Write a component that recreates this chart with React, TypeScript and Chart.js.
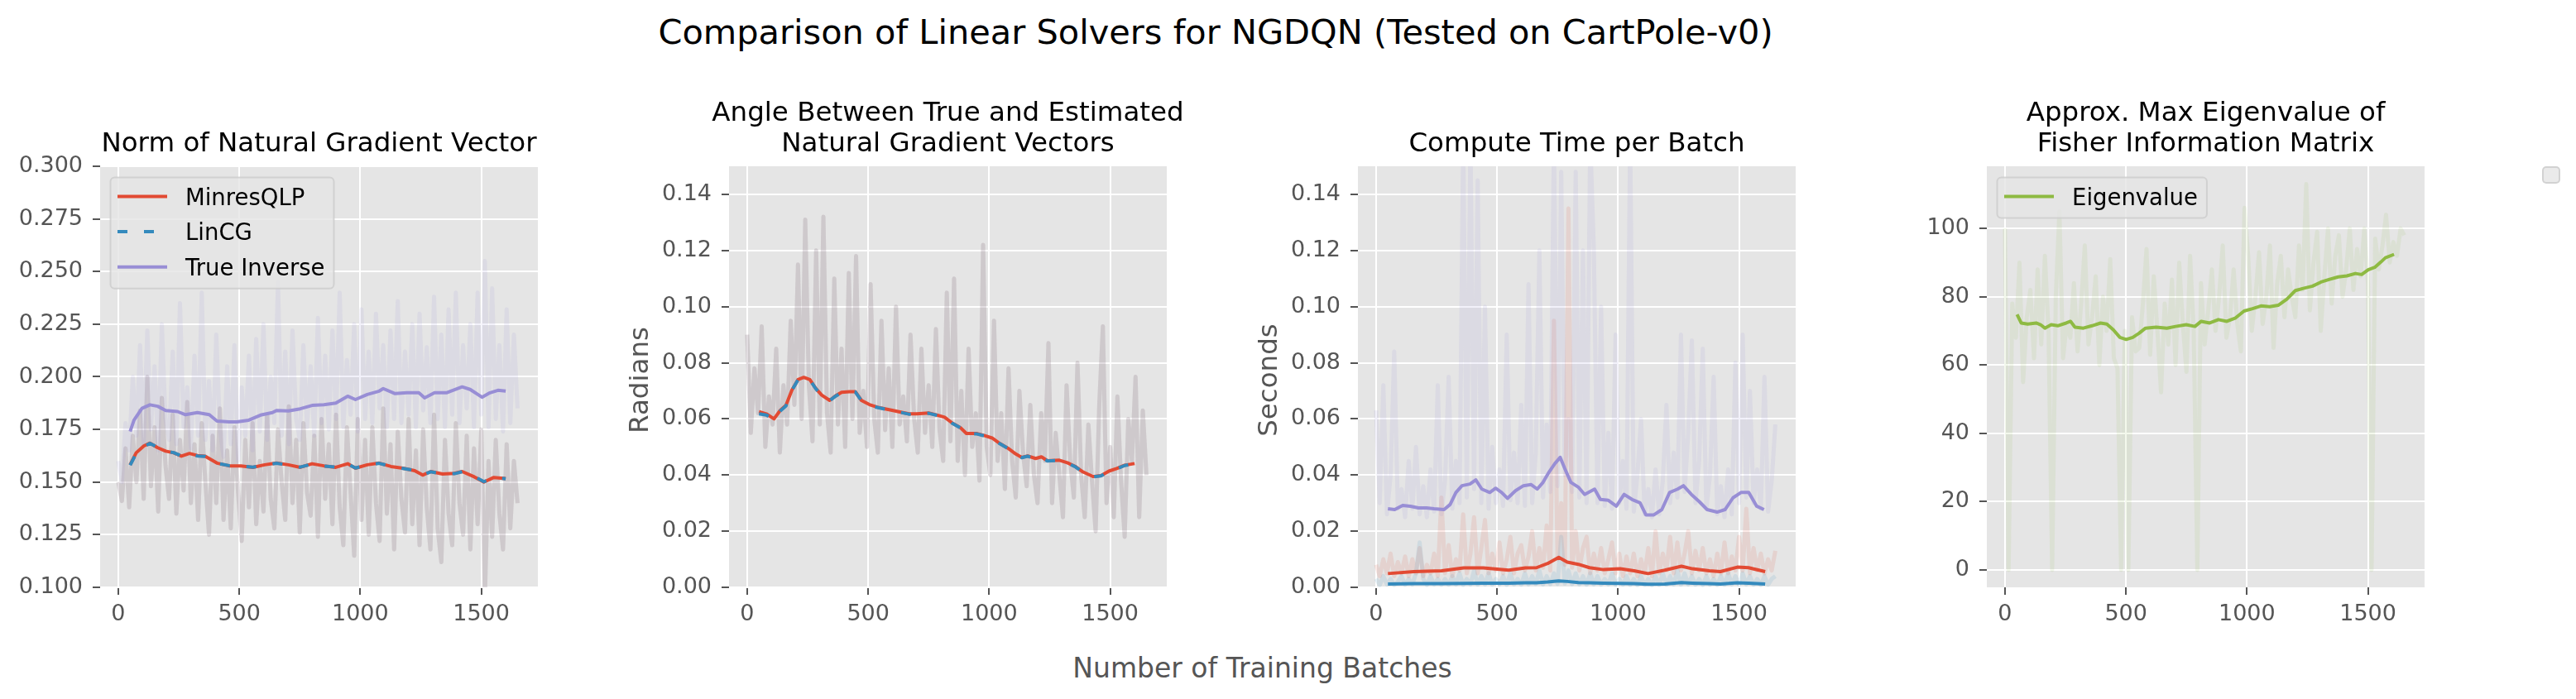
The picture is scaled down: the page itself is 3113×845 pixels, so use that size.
import { useEffect, useRef } from "react"
import { Chart, registerables } from "chart.js"

Chart.register(...registerables)

// x positions of the raw (unsmoothed) samples, every 15 batches
const rawX = [
  0, 15, 30, 45, 60, 75, 90, 105, 120, 135, 150, 165, 180, 195, 210, 225, 240, 255, 270, 285,
  300, 315, 330, 345, 360, 375, 390, 405, 420, 435, 450, 465, 480, 495, 510, 525, 540, 555, 570, 585,
  600, 615, 630, 645, 660, 675, 690, 705, 720, 735, 750, 765, 780, 795, 810, 825, 840, 855, 870, 885,
  900, 915, 930, 945, 960, 975, 990, 1005, 1020, 1035, 1050, 1065, 1080, 1095, 1110, 1125, 1140, 1155, 1170, 1185,
  1200, 1215, 1230, 1245, 1260, 1275, 1290, 1305, 1320, 1335, 1350, 1365, 1380, 1395, 1410, 1425, 1440, 1455, 1470, 1485,
  1500, 1515, 1530, 1545, 1560, 1575, 1590, 1605, 1620, 1635, 1650,
]

// --- Norm of natural gradient vector ---
// raw values of MinresQLP and LinCG coincide
const normEstRaw = [
  0.15, 0.141, 0.166, 0.138, 0.172, 0.15, 0.184, 0.142, 0.2, 0.148,
  0.176, 0.136, 0.19, 0.158, 0.142, 0.182, 0.135, 0.17, 0.146, 0.188,
  0.14, 0.168, 0.132, 0.178, 0.15, 0.125, 0.172, 0.14, 0.185, 0.132,
  0.165, 0.128, 0.176, 0.145, 0.122, 0.17, 0.138, 0.178, 0.13, 0.16,
  0.136, 0.182, 0.142, 0.128, 0.175, 0.15, 0.132, 0.186, 0.14, 0.17,
  0.126, 0.178, 0.145, 0.134, 0.172, 0.124, 0.18, 0.142, 0.168, 0.13,
  0.182, 0.138, 0.12, 0.176, 0.145, 0.115, 0.18, 0.132, 0.17, 0.125,
  0.176, 0.14, 0.122, 0.185, 0.135, 0.168, 0.118, 0.174, 0.142, 0.126,
  0.18, 0.13, 0.165, 0.12, 0.175, 0.138, 0.118, 0.182, 0.128, 0.112,
  0.17, 0.135, 0.12, 0.178, 0.14, 0.125, 0.172, 0.118, 0.166, 0.13,
  0.175, 0.095, 0.16, 0.124, 0.17, 0.135, 0.118, 0.168, 0.128, 0.16,
  0.14,
]
const normTrueRaw = [
  0.16, 0.15, 0.178, 0.165, 0.2, 0.172, 0.215, 0.168, 0.222, 0.175,
  0.205, 0.165, 0.225, 0.18, 0.17, 0.212, 0.168, 0.235, 0.176, 0.195,
  0.166, 0.21, 0.172, 0.24, 0.17, 0.198, 0.165, 0.22, 0.175, 0.162,
  0.205, 0.168, 0.215, 0.16, 0.195, 0.172, 0.21, 0.165, 0.218, 0.174,
  0.225, 0.17, 0.2, 0.178, 0.245, 0.172, 0.212, 0.168, 0.222, 0.18,
  0.17, 0.215, 0.176, 0.205, 0.172, 0.228, 0.178, 0.21, 0.175, 0.222,
  0.18, 0.24, 0.176, 0.208, 0.182, 0.225, 0.174, 0.232, 0.18, 0.212,
  0.178, 0.23, 0.185, 0.215, 0.176, 0.222, 0.18, 0.236, 0.178, 0.212,
  0.182, 0.225, 0.176, 0.23, 0.184, 0.214, 0.178, 0.238, 0.18, 0.22,
  0.176, 0.232, 0.182, 0.24, 0.178, 0.215, 0.185, 0.225, 0.176, 0.24,
  0.182, 0.255, 0.176, 0.242, 0.18, 0.215, 0.174, 0.232, 0.178, 0.22,
  0.185,
]
const normQlpX = [
  49, 74, 106, 131, 163, 196, 229, 261, 294, 327, 359, 408, 458, 507, 556, 605, 654, 703, 752, 801,
  850, 899, 948, 980, 1029, 1078, 1127, 1176, 1225, 1258, 1291, 1340, 1389, 1421, 1471, 1511, 1552, 1601,
]
const normQlpSmooth = [
  0.1582, 0.1639, 0.1672, 0.1685, 0.1663, 0.1647, 0.1639, 0.1623, 0.1636, 0.1626,
  0.1623, 0.159, 0.1577, 0.1577, 0.157, 0.1582, 0.159, 0.1582, 0.157, 0.1587,
  0.1577, 0.157, 0.1587, 0.1566, 0.1582, 0.159, 0.1574, 0.1566, 0.1554, 0.1533,
  0.155, 0.1538, 0.1541, 0.155, 0.1525, 0.15, 0.1522, 0.1517,
]
const normCgSmooth = [
  0.158, 0.1636, 0.1668, 0.1684, 0.1664, 0.1646, 0.164, 0.1624, 0.1635, 0.1624,
  0.1622, 0.1589, 0.1578, 0.1576, 0.1571, 0.1581, 0.1589, 0.1581, 0.1571, 0.1586,
  0.1576, 0.1571, 0.1586, 0.1567, 0.1581, 0.1589, 0.1575, 0.1565, 0.1555, 0.1534,
  0.1549, 0.1539, 0.154, 0.1549, 0.1526, 0.1502, 0.1521, 0.1516,
]
const normTrueX = [
  49, 65, 98, 131, 163, 196, 245, 278, 327, 376, 408, 458, 490, 539, 588, 637, 654, 703, 752, 801,
  850, 899, 948, 980, 1029, 1078, 1095, 1144, 1193, 1242, 1266, 1307, 1356, 1421, 1454, 1503, 1536, 1569, 1601,
]
const normTrueSmooth = [
  0.174, 0.1794, 0.185, 0.1867, 0.186, 0.184, 0.1835, 0.182, 0.183, 0.182,
  0.179, 0.1786, 0.1786, 0.1794, 0.1818, 0.183, 0.184, 0.1838, 0.1848, 0.1864,
  0.1867, 0.1875, 0.1908, 0.1892, 0.1916, 0.1932, 0.1944, 0.192, 0.1924, 0.1924,
  0.19, 0.1924, 0.1924, 0.1952, 0.194, 0.1903, 0.1924, 0.1936, 0.1932,
]

// --- Angle between true and estimated natural gradients ---
const angleRaw = [
  0.09, 0.055, 0.078, 0.062, 0.093, 0.05, 0.068, 0.058, 0.085, 0.048,
  0.072, 0.058, 0.095, 0.065, 0.115, 0.06, 0.131, 0.072, 0.052, 0.12,
  0.058, 0.132, 0.062, 0.048, 0.11, 0.058, 0.085, 0.05, 0.112, 0.06,
  0.118, 0.055, 0.07, 0.05, 0.108, 0.06, 0.048, 0.095, 0.056, 0.078,
  0.05, 0.1, 0.058, 0.068, 0.052, 0.09, 0.06, 0.048, 0.085, 0.055,
  0.072, 0.05, 0.092, 0.056, 0.045, 0.105, 0.052, 0.11, 0.045, 0.07,
  0.04, 0.085, 0.05, 0.062, 0.038, 0.122, 0.05, 0.04, 0.095, 0.045,
  0.062, 0.035, 0.078, 0.045, 0.032, 0.07, 0.048, 0.036, 0.065, 0.04,
  0.03, 0.062, 0.045, 0.087, 0.03, 0.055, 0.04, 0.025, 0.072, 0.045,
  0.032, 0.08, 0.04, 0.025, 0.058, 0.038, 0.02, 0.065, 0.093, 0.03,
  0.05, 0.025, 0.068, 0.038, 0.018, 0.06, 0.045, 0.075, 0.025, 0.063,
  0.04,
]
const angleX = [
  49, 79, 111, 136, 160, 185, 210, 234, 259, 283, 308, 341, 365, 390, 423, 447, 472, 505, 537, 570,
  603, 635, 668, 701, 750, 783, 816, 848, 881, 906, 947, 979, 1012, 1045, 1077, 1110, 1135, 1159, 1192, 1216,
  1241, 1290, 1323, 1355, 1388, 1429, 1462, 1495, 1527, 1560, 1601,
]
const angleQlpSmooth = [
  0.0626, 0.0618, 0.06, 0.063, 0.0648, 0.0703, 0.074, 0.0748, 0.074, 0.0709,
  0.0685, 0.0666, 0.0682, 0.0695, 0.0697, 0.0697, 0.0666, 0.0651, 0.0642, 0.0636,
  0.063, 0.0624, 0.0618, 0.0618, 0.0621, 0.0614, 0.0606, 0.0585, 0.0569, 0.0548,
  0.0548, 0.0541, 0.0532, 0.0512, 0.0496, 0.0475, 0.0463, 0.0468, 0.0459, 0.0465,
  0.0451, 0.0453, 0.0444, 0.0431, 0.0411, 0.0395, 0.0398, 0.0414, 0.0423, 0.0435, 0.0441,
]
const angleCgSmooth = [
  0.0618, 0.0614, 0.0598, 0.0628, 0.0646, 0.0702, 0.0739, 0.0746, 0.0739, 0.0708,
  0.0683, 0.0665, 0.0681, 0.0694, 0.0696, 0.0696, 0.0665, 0.065, 0.0641, 0.0635,
  0.0629, 0.0623, 0.0617, 0.0617, 0.062, 0.0613, 0.0605, 0.0584, 0.0568, 0.0547,
  0.0547, 0.054, 0.0531, 0.0511, 0.0495, 0.0474, 0.0462, 0.0467, 0.0458, 0.0464,
  0.045, 0.0452, 0.0443, 0.043, 0.041, 0.0394, 0.0397, 0.0413, 0.0422, 0.0434, 0.044,
]

// --- Compute time per batch ---
const timeQlpRaw = [
  0.008, 0.004, 0.01, 0.005, 0.012, 0.004, 0.009, 0.005, 0.011, 0.004,
  0.01, 0.005, 0.014, 0.004, 0.008, 0.005, 0.012, 0.004, 0.032, 0.005,
  0.015, 0.004, 0.01, 0.006, 0.026, 0.005, 0.012, 0.025, 0.005, 0.014,
  0.024, 0.005, 0.012, 0.006, 0.016, 0.005, 0.01, 0.018, 0.005, 0.012,
  0.015, 0.006, 0.011, 0.02, 0.006, 0.014, 0.007, 0.022, 0.006, 0.095,
  0.01, 0.03, 0.008, 0.135, 0.007, 0.02, 0.006, 0.014, 0.018, 0.005,
  0.012, 0.006, 0.014, 0.005, 0.01, 0.016, 0.005, 0.012, 0.004, 0.011,
  0.005, 0.012, 0.004, 0.01, 0.005, 0.014, 0.004, 0.02, 0.005, 0.012,
  0.006, 0.018, 0.005, 0.016, 0.006, 0.012, 0.02, 0.005, 0.013, 0.006,
  0.014, 0.005, 0.01, 0.004, 0.012, 0.005, 0.016, 0.005, 0.011, 0.006,
  0.018, 0.006, 0.028, 0.005, 0.014, 0.006, 0.012, 0.005, 0.01, 0.006,
  0.013,
]
const timeCgRaw = [
  0.003, 0.0008, 0.004, 0.001, 0.003, 0.0008, 0.002, 0.004, 0.0009, 0.003,
  0.001, 0.005, 0.016, 0.003, 0.0008, 0.004, 0.001, 0.003, 0.0009, 0.003,
  0.0009, 0.004, 0.001, 0.005, 0.0008, 0.003, 0.001, 0.006, 0.0009, 0.004,
  0.001, 0.005, 0.0009, 0.003, 0.001, 0.004, 0.0008, 0.005, 0.001, 0.003,
  0.0009, 0.005, 0.001, 0.004, 0.0012, 0.006, 0.001, 0.004, 0.0011, 0.005,
  0.0012, 0.018, 0.0013, 0.006, 0.0011, 0.005, 0.001, 0.004, 0.0009, 0.005,
  0.001, 0.004, 0.0009, 0.003, 0.001, 0.005, 0.0008, 0.003, 0.0009, 0.004,
  0.0008, 0.003, 0.0007, 0.004, 0.0008, 0.003, 0.0007, 0.004, 0.0008, 0.005,
  0.0009, 0.004, 0.001, 0.006, 0.0009, 0.005, 0.001, 0.004, 0.0009, 0.003,
  0.0008, 0.004, 0.0009, 0.003, 0.0008, 0.004, 0.0009, 0.005, 0.001, 0.004,
  0.0009, 0.005, 0.001, 0.004, 0.0009, 0.003, 0.0008, 0.004, 0.0009, 0.003,
  0.004,
]
const timeTrueRaw = [
  0.063, 0.03, 0.072, 0.026, 0.04, 0.084, 0.028, 0.035, 0.025, 0.045,
  0.028, 0.05, 0.026, 0.036, 0.025, 0.042, 0.027, 0.072, 0.026, 0.038,
  0.075, 0.028, 0.045, 0.03, 0.16, 0.032, 0.16, 0.035, 0.145, 0.03,
  0.1, 0.028, 0.05, 0.03, 0.042, 0.029, 0.09, 0.031, 0.048, 0.03,
  0.065, 0.029, 0.108, 0.03, 0.048, 0.12, 0.032, 0.058, 0.034, 0.16,
  0.036, 0.148, 0.04, 0.06, 0.034, 0.148, 0.032, 0.12, 0.03, 0.16,
  0.12, 0.03, 0.1, 0.029, 0.055, 0.028, 0.09, 0.03, 0.045, 0.028,
  0.16, 0.027, 0.04, 0.06, 0.026, 0.035, 0.025, 0.042, 0.026, 0.038,
  0.065, 0.03, 0.048, 0.032, 0.09, 0.034, 0.055, 0.088, 0.03, 0.045,
  0.085, 0.028, 0.04, 0.075, 0.026, 0.036, 0.025, 0.042, 0.026, 0.08,
  0.03, 0.09, 0.032, 0.07, 0.03, 0.042, 0.028, 0.075, 0.027, 0.038,
  0.058,
]
const timeSmallX = [
  49, 156, 271, 362, 443, 548, 617, 663, 709, 755, 790, 836, 882, 940, 1009, 1066, 1124, 1193,
  1262, 1308, 1377, 1423, 1493, 1539, 1608,
]
const timeQlpSmooth = [
  0.0049, 0.0056, 0.0059, 0.0069, 0.0069, 0.0061, 0.0069, 0.007, 0.0085, 0.0107,
  0.009, 0.0082, 0.007, 0.0063, 0.0066, 0.0059, 0.0049, 0.0061, 0.0075, 0.0066,
  0.0059, 0.0056, 0.0072, 0.007, 0.0056,
]
const timeCgSmooth = [
  0.0012, 0.0013, 0.0013, 0.0014, 0.0015, 0.0015, 0.0016, 0.0016, 0.0019, 0.0023,
  0.0021, 0.0017, 0.0016, 0.0015, 0.0014, 0.0013, 0.0011, 0.0012, 0.0017, 0.0015,
  0.0013, 0.0012, 0.0016, 0.0015, 0.0012,
]
const timeTrueX = [
  49, 77, 110, 142, 175, 208, 240, 281, 306, 330, 355, 388, 412, 437, 470, 494, 519, 543, 576, 609,
  641, 666, 690, 715, 739, 761, 780, 805, 837, 862, 903, 927, 960, 993, 1025, 1058, 1091, 1115, 1148, 1181,
  1213, 1246, 1270, 1303, 1336, 1368, 1409, 1442, 1475, 1508, 1540, 1573, 1603,
]
const timeTrueSmooth = [
  0.028, 0.0277, 0.0292, 0.0289, 0.0283, 0.0283, 0.028, 0.0277, 0.0295, 0.0338,
  0.0362, 0.0368, 0.0383, 0.035, 0.0338, 0.0353, 0.0338, 0.0317, 0.0344, 0.0362,
  0.0366, 0.035, 0.0374, 0.0411, 0.0441, 0.0463, 0.0423, 0.0374, 0.0356, 0.0331,
  0.035, 0.0313, 0.031, 0.0289, 0.0331, 0.0313, 0.0301, 0.0258, 0.0258, 0.0277,
  0.0338, 0.035, 0.0362, 0.0331, 0.0305, 0.0277, 0.0268, 0.0277, 0.0319, 0.0338,
  0.0338, 0.0289, 0.0277,
]

// --- Approx. max eigenvalue of the Fisher information matrix ---
const eigenRaw = [
  100, 0, 78, 68, 90, 55, 74, 82, 62, 88,
  66, 92, 70, 0, 80, 105, 62, 72, 68, 84,
  64, 78, 95, 66, 74, 86, 60, 80, 70, 91,
  62, 59, 0, 70, 0, 74, 64, 65, 78, 94,
  63, 86, 70, 52, 78, 66, 85, 60, 90, 72,
  58, 92, 70, 0, 84, 66, 76, 88, 70, 80,
  95, 68, 74, 88, 72, 64, 106, 92, 70, 80,
  93, 72, 80, 95, 65, 84, 92, 74, 88, 80,
  74, 95, 82, 113, 76, 90, 99, 70, 86, 100,
  78, 92, 98, 80, 88, 100, 82, 94, 86, 100,
  84, 0, 97, 88, 95, 104, 90, 96, 92, 100,
  98,
]
const eigenX = [
  50, 67, 94, 129, 147, 165, 191, 218, 253, 271, 289, 324, 360, 395, 421, 448, 475, 501, 528, 554,
  581, 625, 669, 705, 749, 785, 811, 846, 882, 917, 953, 988, 1023, 1058, 1094, 1129, 1165, 1200, 1236, 1271,
  1306, 1342, 1377, 1413, 1448, 1474, 1501, 1528, 1554, 1572, 1608,
]
const eigenSmooth = [
  74.8, 72.3, 72, 72.3, 71.8, 70.8, 71.8, 71.5, 72.3, 72.8,
  71.1, 70.8, 71.5, 72.3, 72, 70.3, 68.1, 67.5, 68.1, 69.3,
  70.8, 71.1, 70.8, 71.3, 71.8, 71.3, 72.8, 72.3, 73.3, 72.8,
  73.8, 75.8, 76.5, 77.3, 77.1, 77.5, 79.3, 81.8, 82.5, 83.1,
  84.3, 85.1, 85.8, 86.1, 86.8, 86.5, 87.9, 88.6, 90.2, 91.4, 92.4,
]

// tick values
const xTicks = [0, 500, 1000, 1500]
const normTicks = [0.1, 0.125, 0.15, 0.175, 0.2, 0.225, 0.25, 0.275, 0.3]
const smallTicks = [0, 0.02, 0.04, 0.06, 0.08, 0.1, 0.12, 0.14]
const eigenTicks = [0, 20, 40, 60, 80, 100]

const FONT = "'DejaVu Sans', sans-serif"
const RED = "#E24A33"
const BLUE = "#348ABD"
const PURPLE = "#988ED5"
const GREEN = "#8EBA42"
const DASH = [12, 20]

// plot area geometry (figure px)
const PLOT_TOP = 201
const PLOT_W = 529
const AXIS_W = 121
const RIGHT_PAD = 70
const CANVAS_TOP = 90
const CANVAS_W = AXIS_W + PLOT_W + RIGHT_PAD
const CANVAS_H = 680

function rgba(hex: string, a: number) {
  const n = parseInt(hex.slice(1), 16)
  return `rgba(${(n >> 16) & 255}, ${(n >> 8) & 255}, ${n & 255}, ${a})`
}

const toPoints = (xs: number[], ys: number[]) => ys.map((y, i) => ({ x: xs[i], y }))

function rawLine(ys: number[], color: string, order: number, alpha = 0.12) {
  return {
    data: toPoints(rawX, ys),
    borderColor: rgba(color, alpha),
    borderWidth: 5,
    borderJoinStyle: "round",
    pointRadius: 0,
    clip: 0,
    order,
  }
}

function smoothLine(xs: number[], ys: number[], color: string, order: number, dash: number[] = []) {
  return {
    data: toPoints(xs, ys),
    borderColor: color,
    borderWidth: 4,
    borderDash: dash,
    borderCapStyle: "butt",
    borderJoinStyle: "round",
    pointRadius: 0,
    clip: 0,
    order,
  }
}

// background, titles, y label and framed legend in the matplotlib ggplot look
const panelDecor = {
  id: "panelDecor",
  beforeDraw(chart: any) {
    const { ctx, chartArea: a } = chart
    ctx.save()
    ctx.fillStyle = "#E5E5E5"
    ctx.fillRect(a.left, a.top, a.right - a.left, a.bottom - a.top)
    ctx.restore()
  },
  afterDraw(chart: any, _args: any, opts: any) {
    const { ctx, chartArea: a } = chart
    ctx.save()
    ctx.font = `32.5px ${FONT}`
    ctx.textAlign = "center"
    ctx.textBaseline = "alphabetic"
    ctx.fillStyle = "#000000"
    const lines: string[] = opts.title || []
    lines.forEach((line, i) => {
      ctx.fillText(line, (a.left + a.right) / 2, a.top - 18 - (lines.length - 1 - i) * 37.5)
    })

    if (opts.ylabel) {
      ctx.save()
      ctx.translate(a.left - 98, (a.top + a.bottom) / 2 + 4)
      ctx.rotate(-Math.PI / 2)
      ctx.fillStyle = "#555555"
      ctx.fillText(opts.ylabel, 0, 0)
      ctx.restore()
    }

    const items: { label: string; color: string; dash?: number[] }[] = opts.legend || []
    if (items.length) {
      ctx.font = `27.5px ${FONT}`
      ctx.textAlign = "left"
      const textX = a.left + 103
      const widest = Math.max(...items.map((it) => ctx.measureText(it.label).width))
      const first = a.top + 46.5
      const left = a.left + 12.5
      const top = a.top + 13.5
      const right = textX + widest + 11
      const bottom = first + (items.length - 1) * 42.6 + 16
      ctx.beginPath()
      ctx.roundRect(left, top, right - left, bottom - top, 5)
      ctx.fillStyle = "rgba(229, 229, 229, 0.8)"
      ctx.fill()
      ctx.strokeStyle = "rgba(204, 204, 204, 0.8)"
      ctx.lineWidth = 2
      ctx.stroke()
      items.forEach((it, i) => {
        const y = first + i * 42.6
        ctx.beginPath()
        ctx.setLineDash(it.dash || [])
        ctx.strokeStyle = it.color
        ctx.lineWidth = 4
        ctx.lineCap = "butt"
        ctx.moveTo(a.left + 21, y - 10)
        ctx.lineTo(a.left + 81, y - 10)
        ctx.stroke()
        ctx.setLineDash([])
        ctx.fillStyle = "#000000"
        ctx.fillText(it.label, textX, y)
      })
    }
    ctx.restore()
  },
}

interface PanelSpec {
  key: string
  left: number
  title: string[]
  ylabel?: string
  yMin: number
  yMax: number
  yTicks: number[]
  yDigits: number
  datasets: any[]
  legend?: { label: string; color: string; dash?: number[] }[]
}

const panels: PanelSpec[] = [
  {
    key: "norm",
    left: 121,
    title: ["Norm of Natural Gradient Vector"],
    yMin: 0.1,
    yMax: 0.3,
    yTicks: normTicks,
    yDigits: 3,
    datasets: [
      smoothLine(normQlpX, normCgSmooth, BLUE, 0, DASH),
      smoothLine(normQlpX, normQlpSmooth, RED, 1),
      smoothLine(normTrueX, normTrueSmooth, PURPLE, 2),
      rawLine(normTrueRaw, PURPLE, 11),
      rawLine(normEstRaw, BLUE, 12),
      rawLine(normEstRaw, RED, 13),
    ],
    legend: [
      { label: "MinresQLP", color: RED },
      { label: "LinCG", color: BLUE, dash: DASH },
      { label: "True Inverse", color: PURPLE },
    ],
  },
  {
    key: "angle",
    left: 881,
    title: ["Angle Between True and Estimated", "Natural Gradient Vectors"],
    ylabel: "Radians",
    yMin: 0,
    yMax: 0.15,
    yTicks: smallTicks,
    yDigits: 2,
    datasets: [
      smoothLine(angleX, angleCgSmooth, BLUE, 0, DASH),
      smoothLine(angleX, angleQlpSmooth, RED, 1),
      rawLine(angleRaw, BLUE, 12),
      rawLine(angleRaw, RED, 13),
    ],
  },
  {
    key: "time",
    left: 1641,
    title: ["Compute Time per Batch"],
    ylabel: "Seconds",
    yMin: 0,
    yMax: 0.15,
    yTicks: smallTicks,
    yDigits: 2,
    datasets: [
      smoothLine(timeSmallX, timeCgSmooth, BLUE, 0),
      smoothLine(timeSmallX, timeQlpSmooth, RED, 1),
      smoothLine(timeTrueX, timeTrueSmooth, PURPLE, 2),
      rawLine(timeTrueRaw, PURPLE, 11),
      rawLine(timeCgRaw, BLUE, 12),
      rawLine(timeQlpRaw, RED, 13),
    ],
  },
  {
    key: "eigen",
    left: 2401,
    title: ["Approx. Max Eigenvalue of", "Fisher Information Matrix"],
    yMin: -5.1,
    yMax: 118.2,
    yTicks: eigenTicks,
    yDigits: 0,
    datasets: [smoothLine(eigenX, eigenSmooth, GREEN, 0), rawLine(eigenRaw, GREEN, 10, 0.1)],
    legend: [{ label: "Eigenvalue", color: GREEN }],
  },
]

const tickFont = { family: FONT, size: 27 }
const gridOpts = {
  color: "#FFFFFF",
  lineWidth: 2,
  drawTicks: true,
  tickLength: 9,
  tickColor: "#555555",
  tickWidth: 2,
}

function Panel({ spec }: { spec: PanelSpec }) {
  const canvasRef = useRef<HTMLCanvasElement>(null)

  useEffect(() => {
    const ctx = canvasRef.current?.getContext("2d")
    if (!ctx) return
    const chart = new Chart(ctx, {
      type: "line",
      data: { datasets: spec.datasets },
      plugins: [panelDecor],
      options: {
        animation: false,
        responsive: false,
        layout: { padding: { top: PLOT_TOP - CANVAS_TOP, right: RIGHT_PAD, bottom: 10, left: 0 } },
        plugins: {
          legend: { display: false },
          tooltip: { enabled: false },
          title: { display: false },
          panelDecor: { title: spec.title, ylabel: spec.ylabel, legend: spec.legend },
        } as any,
        scales: {
          x: {
            type: "linear",
            min: -75,
            max: 1734,
            afterBuildTicks: (axis: any) => {
              axis.ticks = xTicks.map((v) => ({ value: v }))
            },
            afterFit: (axis: any) => {
              axis.height = 50
            },
            ticks: {
              font: tickFont,
              color: "#555555",
              padding: 8,
              maxRotation: 0,
              autoSkip: false,
              callback: (v: any) => String(v),
            },
            grid: gridOpts,
            border: { display: false },
          },
          y: {
            type: "linear",
            min: spec.yMin,
            max: spec.yMax,
            afterBuildTicks: (axis: any) => {
              axis.ticks = spec.yTicks.map((v) => ({ value: v }))
            },
            afterFit: (axis: any) => {
              axis.width = AXIS_W
            },
            ticks: {
              font: tickFont,
              color: "#555555",
              padding: 12,
              autoSkip: false,
              callback: (v: any) => Number(v).toFixed(spec.yDigits),
            },
            grid: gridOpts,
            border: { display: false },
          },
        },
      } as any,
    })
    return () => chart.destroy()
  }, [spec])

  return (
    <canvas
      ref={canvasRef}
      width={CANVAS_W}
      height={CANVAS_H}
      style={{
        position: "absolute",
        left: spec.left - AXIS_W,
        top: CANVAS_TOP,
        width: CANVAS_W,
        height: CANVAS_H,
      }}
    />
  )
}

export default function App() {
  return (
    <div
      style={{
        position: "absolute",
        left: 0,
        top: 0,
        width: 3113,
        height: 845,
        background: "#FFFFFF",
        overflow: "hidden",
        fontFamily: FONT,
      }}
    >
      <div
        style={{
          position: "absolute",
          left: 1469,
          top: 52.7 - 0.846 * 41.5,
          transform: "translateX(-50%)",
          fontSize: 41.5,
          lineHeight: 1,
          whiteSpace: "nowrap",
          color: "#000000",
        }}
      >
        Comparison of Linear Solvers for NGDQN (Tested on CartPole-v0)
      </div>
      {panels.map((p) => (
        <Panel key={p.key} spec={p} />
      ))}
      <div
        style={{
          position: "absolute",
          left: 1525.5,
          top: 819 - 0.846 * 33,
          transform: "translateX(-50%)",
          fontSize: 33,
          lineHeight: 1,
          whiteSpace: "nowrap",
          color: "#555555",
        }}
      >
        Number of Training Batches
      </div>
      <div
        style={{
          position: "absolute",
          left: 3072,
          top: 201,
          width: 22,
          height: 21,
          boxSizing: "border-box",
          background: "rgba(229, 229, 229, 0.8)",
          border: "2px solid rgba(204, 204, 204, 0.8)",
          borderRadius: 5,
        }}
      />
    </div>
  )
}
